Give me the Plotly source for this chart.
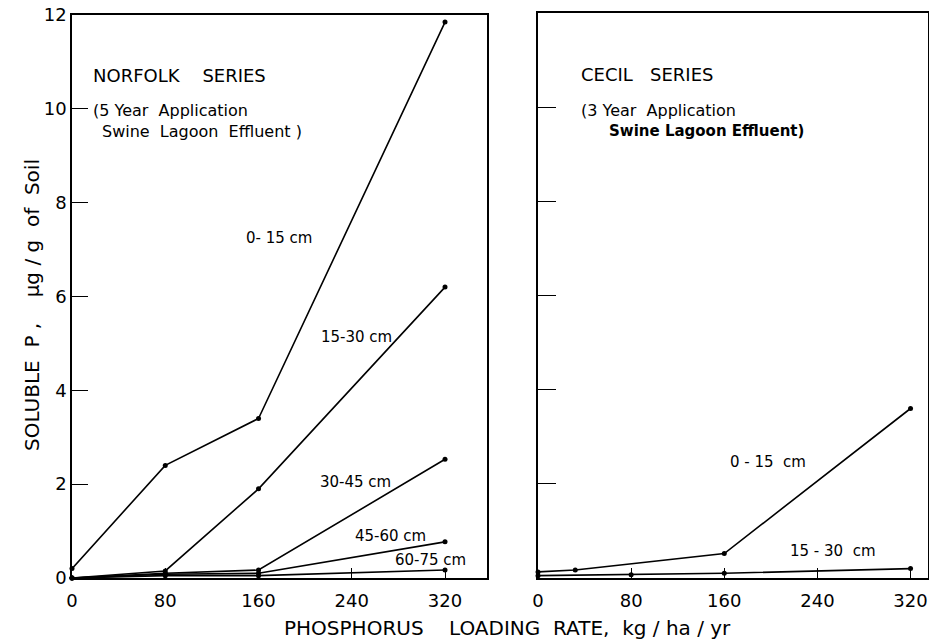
import plotly.graph_objects as go

# ---------------- data ----------------
loading_rates = [0, 80, 160, 320]

norfolk_0_15 = [0.2, 2.4, 3.4, 11.85]
norfolk_15_30 = [0.0, 0.15, 1.9, 6.2]
norfolk_30_45 = [0.0, 0.1, 0.17, 2.53]
norfolk_45_60 = [0.0, 0.08, 0.1, 0.77]
norfolk_60_75 = [0.0, 0.05, 0.05, 0.17]

cecil_rates_0_15 = [0, 32, 160, 320]
cecil_0_15 = [0.13, 0.17, 0.52, 3.6]
cecil_15_30 = [0.05, 0.07, 0.1, 0.2]

x_ticks = [0, 80, 160, 240, 320]
y_ticks = [0, 2, 4, 6, 8, 10, 12]

FONT = "DejaVu Sans"
W, H = 929, 643

fig = go.Figure()

def add_series(x, y, xa, ya):
    fig.add_trace(go.Scatter(
        x=x, y=y, xaxis=xa, yaxis=ya, mode="lines+markers",
        line=dict(color="black", width=1.6),
        marker=dict(color="black", size=5),
        showlegend=False, cliponaxis=False))

for s in [norfolk_0_15, norfolk_15_30, norfolk_30_45, norfolk_45_60, norfolk_60_75]:
    add_series(loading_rates, s, "x", "y")
add_series(cecil_rates_0_15, cecil_0_15, "x2", "y2")
add_series(loading_rates, cecil_15_30, "x2", "y2")

px = lambda p: p / W
py = lambda p: 1 - p / H

axis_common = dict(showline=True, linecolor="black", linewidth=1.6, mirror=True,
                   ticks="inside", tickcolor="black", showgrid=False, zeroline=False,
                   automargin=False,
                   tickfont=dict(family=FONT, size=18, color="black"))

fig.update_layout(
    width=W, height=H, margin=dict(l=0, r=0, t=0, b=0),
    paper_bgcolor="white", plot_bgcolor="white",
    xaxis=dict(domain=[px(72), px(487)], range=[0, 356], tickvals=x_ticks,
               ticklen=10, anchor="y", ticklabelstandoff=6, **axis_common),
    yaxis=dict(domain=[py(578), py(15)], range=[0, 12], tickvals=y_ticks,
               ticklen=16, anchor="x", **axis_common),
    xaxis2=dict(domain=[px(538), px(928)], range=[0, 335], tickvals=x_ticks,
                ticklen=10, anchor="y2", ticklabelstandoff=6, **axis_common),
    yaxis2=dict(domain=[py(578), py(13)], range=[0, 12], tickvals=y_ticks,
                ticklen=18, anchor="x2", showticklabels=False, **axis_common),
)

def ann(text, x, y, xanchor="center", size=15, family=FONT, bold=False, yanchor="middle"):
    fig.add_annotation(text=("<b>%s</b>" % text) if bold else text,
                       x=px(x), y=py(y), xref="paper", yref="paper",
                       xanchor=xanchor, yanchor=yanchor, showarrow=False,
                       font=dict(family=family, size=size, color="black"))

ann("NORFOLK    SERIES", 91, 76, "left", 18)
ann("(5 Year  Application", 91, 110, "left", 16)
ann("Swine  Lagoon  Effluent )", 100, 131, "left", 16)
ann("0- 15 cm", 279, 238, size=15)
ann("15-30 cm", 356, 337, size=15)
ann("30-45 cm", 355, 482, size=15)
ann("45-60 cm", 390, 536, size=15)
ann("60-75 cm", 430, 560, size=15)

ann("CECIL   SERIES", 579, 74, "left", 18)
ann("(3 Year  Application", 579, 110, "left", 16)
ann("Swine Lagoon Effluent)", 607, 131, "left", 15, bold=True)
ann("0 - 15  cm", 768, 462, size=15)
ann("15 - 30  cm", 833, 551, size=15)

fig.add_annotation(text="SOLUBLE  P ,    \u03bcg / g  of  Soil", x=px(18), y=py(305),
                   xref="paper", yref="paper", textangle=-90, showarrow=False,
                   font=dict(family=FONT, size=20, color="black"))
ann("PHOSPHORUS    LOADING  RATE,  kg / ha / yr", 507, 614, size=20, yanchor="top")

fig.write_html("out.html", config={"displayModeBar": False},
               post_script="document.body.style.margin='0px';document.body.style.overflow='hidden';")
